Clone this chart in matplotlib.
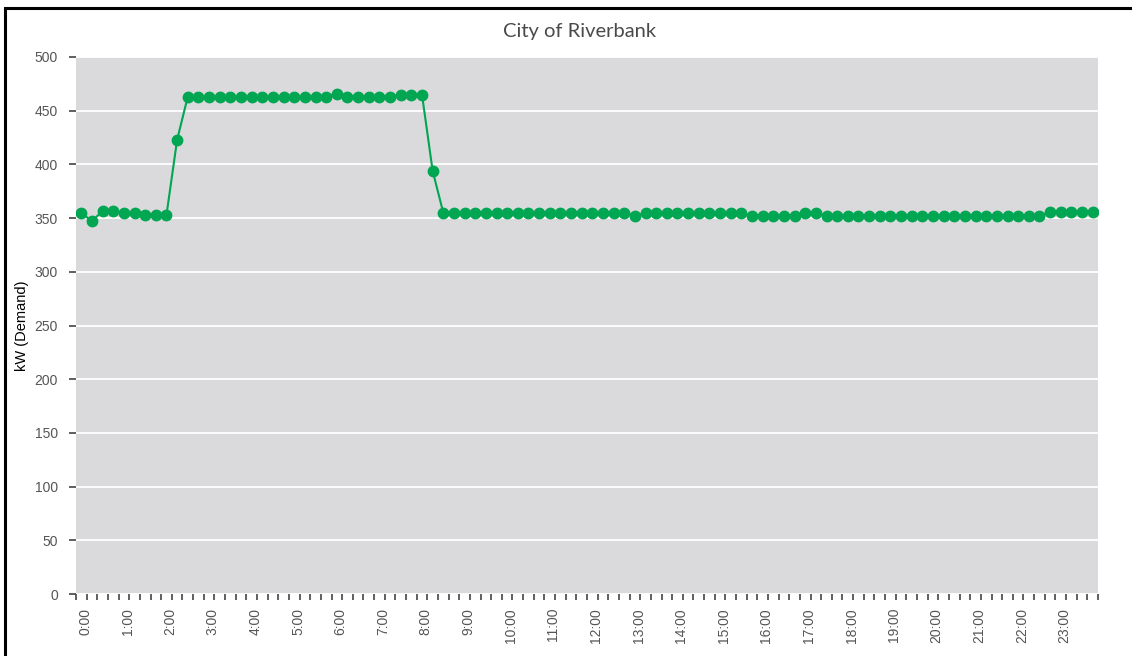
import matplotlib.pyplot as plt
from matplotlib.patches import Rectangle

title = "City of Riverbank"
ylabel = "kW (Demand)"

# 15-minute readings, 0:00 .. 23:45
demand = [355, 347, 357, 357, 355, 355, 353, 353, 353, 423,
          463, 463, 463, 463, 463, 463, 463, 463, 463, 463,
          463, 463, 463, 463, 466, 463, 463, 463, 463, 463,
          465, 465, 465, 394, 355, 355, 355, 355, 355, 355,
          355, 355, 355, 355, 355, 355, 355, 355, 355, 355,
          355, 355, 352, 355, 355, 355, 355, 355, 355, 355,
          355, 355, 355, 352, 352, 352, 352, 352, 355, 355,
          352, 352, 352, 352, 352, 352, 352, 352, 352, 352,
          352, 352, 352, 352, 352, 352, 352, 352, 352, 352,
          352, 356, 356, 356, 356, 356]
hour_labels = [f"{h}:00" for h in range(24)]
yticks = list(range(0, 501, 50))

green = "#00a651"
grey_bg = "#dadadc"
text_col = "#555555"

plt.rcParams['font.family'] = ['Liberation Sans', 'DejaVu Sans']

fig = plt.figure(figsize=(11.32, 6.56), dpi=100)
ax = fig.add_axes([76 / 1132, 62 / 656, 1022 / 1132, 537 / 656])
ax.set_facecolor(grey_bg)

x = list(range(len(demand)))
ax.plot(x, demand, color=green, lw=1.5, marker='o', ms=7.5, mec=green, mfc=green, zorder=3)

ax.set_xlim(-0.5, len(demand) - 0.5)
ax.set_ylim(0, 500)
ax.set_yticks(yticks)
ax.yaxis.grid(True, color='white', lw=1.3)
ax.set_axisbelow(True)
for s in ax.spines.values():
    s.set_visible(False)

ax.tick_params(axis='y', length=5, width=1.2, color='#444444', labelcolor=text_col,
               labelsize=10, pad=8)
# hour labels (no tick marks), quarter-hour ticks at category boundaries
ax.set_xticks([i * 4 + 0.35 for i in range(24)])
ax.set_xticklabels(hour_labels, rotation=90, color=text_col, fontsize=10)
ax.tick_params(axis='x', which='major', length=0, pad=10)
ax.set_xticks([i - 0.5 for i in range(len(demand) + 1)], minor=True)
ax.tick_params(axis='x', which='minor', length=4, width=1.2, color='#444444')

ax.set_ylabel(ylabel, fontsize=10.5, color='black')
ax.yaxis.set_label_coords(-47 / 1022, 0.5)

fig.text(580 / 1132, 1 - 32 / 656, title, ha='center', va='center',
         fontsize=14.5, color='#4a4a4a', family=['Lato', 'DejaVu Sans'])

# outer frame (left and top edges)
fig.add_artist(Rectangle((4.5 / 1132, -0.1), 1.2, 1.1 - 7.5 / 656, transform=fig.transFigure,
                         fill=False, ec='black', lw=2.2))

fig.savefig("out.png", dpi=100)
